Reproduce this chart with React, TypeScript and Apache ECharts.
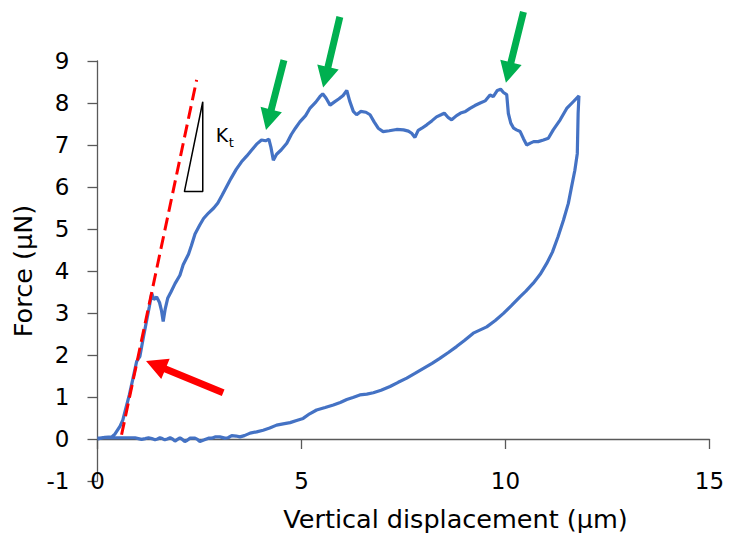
import React, { useEffect, useRef } from "react";
import * as echarts from "echarts";

// ---- Data ----
const xTickInterval = 5;
const yTickInterval = 1;
const xRange = [0, 15];
const yRange = [-1, 9];

// loading branch: displacement (µm), force (µN)
const loadX = [0.0, 0.18, 0.35, 0.43, 0.55, 0.62, 0.7, 0.78, 0.86, 0.96, 1.04, 1.12, 1.2, 1.27, 1.33, 1.38, 1.45, 1.52, 1.57, 1.61, 1.66, 1.72, 1.8, 1.9, 2.02, 2.1, 2.23, 2.3, 2.39, 2.51, 2.6, 2.72, 2.85, 2.95, 3.05, 3.17, 3.27, 3.4, 3.53, 3.66, 3.78, 3.9, 4.02, 4.12, 4.2, 4.25, 4.31, 4.39, 4.5, 4.64, 4.75, 4.85, 4.96, 5.1, 5.21, 5.35, 5.45, 5.52, 5.6, 5.7, 5.8, 5.92, 6.02, 6.11, 6.18, 6.27, 6.35, 6.45, 6.58, 6.68, 6.78, 6.88, 7.0, 7.15, 7.33, 7.5, 7.62, 7.7, 7.78, 7.86, 7.95, 8.07, 8.2, 8.31, 8.42, 8.5, 8.6, 8.68, 8.8, 8.9, 9.02, 9.13, 9.25, 9.38, 9.5, 9.62, 9.7, 9.8, 9.88, 9.95, 10.03, 10.07, 10.13, 10.2, 10.27, 10.36, 10.44, 10.52, 10.62, 10.69, 10.8, 10.93, 11.05, 11.17, 11.34, 11.5, 11.66, 11.8];
const loadY = [0.0, 0.04, 0.05, 0.12, 0.3, 0.45, 0.75, 1.05, 1.4, 1.85, 1.97, 2.4, 2.8, 3.15, 3.47, 3.32, 3.38, 3.25, 3.05, 2.8, 3.1, 3.35, 3.5, 3.7, 3.9, 4.15, 4.4, 4.6, 4.88, 5.1, 5.25, 5.38, 5.5, 5.62, 5.8, 6.02, 6.2, 6.42, 6.6, 6.74, 6.88, 7.02, 7.12, 7.1, 7.14, 6.95, 6.64, 6.78, 6.88, 7.04, 7.25, 7.4, 7.55, 7.7, 7.88, 8.02, 8.15, 8.22, 8.12, 7.95, 8.02, 8.1, 8.18, 8.3, 8.05, 7.8, 7.72, 7.8, 7.78, 7.72, 7.55, 7.4, 7.32, 7.34, 7.37, 7.36, 7.33, 7.28, 7.18, 7.35, 7.4, 7.48, 7.58, 7.67, 7.72, 7.76, 7.65, 7.6, 7.7, 7.76, 7.8, 7.87, 7.94, 8.0, 8.05, 8.19, 8.15, 8.3, 8.33, 8.25, 8.2, 7.75, 7.52, 7.4, 7.36, 7.32, 7.15, 7.0, 7.05, 7.08, 7.08, 7.12, 7.16, 7.36, 7.6, 7.87, 8.03, 8.17];

// unloading branch, ending in the noisy baseline back to 0
const unloadX = [11.8, 11.78, 11.76, 11.7, 11.62, 11.54, 11.42, 11.29, 11.15, 11.01, 10.85, 10.68, 10.5, 10.36, 10.15, 9.95, 9.75, 9.54, 9.21, 9.0, 8.8, 8.6, 8.39, 8.2, 7.99, 7.78, 7.58, 7.37, 7.17, 6.95, 6.76, 6.6, 6.43, 6.26, 6.11, 5.95, 5.78, 5.58, 5.37, 5.2, 5.04, 4.88, 4.72, 4.55, 4.39, 4.22, 4.06, 3.9, 3.74, 3.6, 3.49, 3.4, 3.29, 3.2, 3.12, 3.0, 2.88, 2.8, 2.72, 2.62, 2.51, 2.45, 2.39, 2.27, 2.2, 2.14, 2.08, 2.02, 1.96, 1.9, 1.84, 1.78, 1.71, 1.65, 1.59, 1.53, 1.47, 1.41, 1.33, 1.25, 1.17, 1.08, 1.0, 0.92, 0.7, 0.43, 0.18, 0.06, 0.0];
const unloadY = [8.17, 7.75, 6.8, 6.4, 6.01, 5.61, 5.21, 4.82, 4.45, 4.18, 3.92, 3.71, 3.52, 3.39, 3.18, 2.99, 2.82, 2.67, 2.52, 2.35, 2.2, 2.06, 1.92, 1.8, 1.68, 1.56, 1.45, 1.35, 1.25, 1.16, 1.1, 1.07, 1.05, 0.99, 0.94, 0.87, 0.81, 0.75, 0.69, 0.6, 0.49, 0.44, 0.39, 0.36, 0.33, 0.26, 0.21, 0.17, 0.14, 0.08, 0.05, 0.07, 0.08, 0.03, 0.02, 0.05, 0.05, 0.02, 0.02, -0.02, -0.06, -0.01, 0.02, 0.02, -0.03, -0.06, -0.01, 0.03, -0.01, -0.05, 0.0, 0.03, 0.0, -0.02, 0.01, 0.03, 0.0, -0.02, 0.01, 0.03, 0.01, -0.01, 0.01, 0.03, 0.03, 0.03, 0.04, 0.02, 0.02];

// initial stiffness fit (red dashed)
const fitX = [0.59, 2.43];
const fitY = [0.1, 8.55];

// slope triangle K_t
const triX = [2.58, 2.58, 2.13, 2.58];
const triY = [8.03, 5.89, 5.89, 8.03];
const ktLabelAt = [2.9, 7.24];

// arrows [tailX, tailY, tipX, tipY] in data units
const redArrow = [3.08, 1.1, 1.19, 1.86];
const greenArrows = [
  [4.57, 9.02, 4.13, 7.36],
  [5.94, 10.05, 5.53, 8.37],
  [10.44, 10.17, 10.01, 8.48],
];

const FONT = "'DejaVu Sans', sans-serif";
const AXIS_COLOR = "#595959";

function zip(xs: number[], ys: number[]) {
  return xs.map((x, i) => [x, ys[i]]);
}

function arrowPoints(tail: number[], tip: number[], shaft: number, headW: number, headL: number) {
  const dx = tip[0] - tail[0];
  const dy = tip[1] - tail[1];
  const len = Math.sqrt(dx * dx + dy * dy);
  const ux = dx / len, uy = dy / len;
  const nx = -uy, ny = ux;
  const bx = tip[0] - ux * headL, by = tip[1] - uy * headL;
  const s = shaft / 2, w = headW / 2;
  return [
    [tail[0] + nx * s, tail[1] + ny * s],
    [bx + nx * s, by + ny * s],
    [bx + nx * w, by + ny * w],
    [tip[0], tip[1]],
    [bx - nx * w, by - ny * w],
    [bx - nx * s, by - ny * s],
    [tail[0] - nx * s, tail[1] - ny * s],
  ];
}

export default function App() {
  const ref = useRef<HTMLDivElement>(null);
  useEffect(() => {
    if (!ref.current) return;
    const chart = echarts.init(ref.current, undefined, { renderer: "svg" });
    const option: any = {
      animation: false,
      backgroundColor: "#ffffff",
      grid: { left: 97.5, right: 19.5, top: 61, bottom: 55, containLabel: false, outerBoundsMode: "none" },
      xAxis: {
        type: "value",
        min: xRange[0],
        max: xRange[1],
        interval: xTickInterval,
        axisLine: { onZero: true, lineStyle: { color: AXIS_COLOR, width: 1.3 } },
        axisTick: { show: true, length: 10, lineStyle: { color: AXIS_COLOR, width: 1.3 } },
        axisLabel: { margin: -12, fontSize: 23, color: "#000", fontFamily: FONT },
        splitLine: { show: false },
        name: "Vertical displacement (µm)",
        nameLocation: "middle",
        nameGap: 25,
        nameTextStyle: { fontSize: 25.5, color: "#000", fontFamily: FONT, padding: [0, 0, 0, 104] },
      },
      yAxis: {
        type: "value",
        min: yRange[0],
        max: yRange[1],
        interval: yTickInterval,
        axisLine: { show: true, onZero: false, lineStyle: { color: AXIS_COLOR, width: 1.3 } },
        axisTick: { show: true, length: 10, lineStyle: { color: AXIS_COLOR, width: 1.3 } },
        axisLabel: { margin: 28, fontSize: 23, color: "#000", fontFamily: FONT },
        splitLine: { show: false },
        name: "Force (µN)",
        nameLocation: "middle",
        nameGap: 61,
        nameTextStyle: { fontSize: 25.5, color: "#000", fontFamily: FONT },
      },
      series: [
        {
          type: "line",
          data: zip(loadX, loadY).concat(zip(unloadX, unloadY)),
          symbol: "none",
          lineStyle: { color: "#4472C4", width: 3.2 },
          silent: true,
          z: 2,
        },
        {
          type: "line",
          data: zip(fitX, fitY),
          symbol: "none",
          lineStyle: { color: "#FF0000", width: 3, type: [13, 6] },
          silent: true,
          z: 3,
        },
        {
          type: "line",
          data: zip(triX, triY),
          symbol: "none",
          lineStyle: { color: "#000000", width: 1.5 },
          silent: true,
          z: 3,
        },
      ],
    };
    chart.setOption(option);

    const toPx = (p: number[]) => chart.convertToPixel({ gridIndex: 0 }, p) as number[];
    const graphics: any[] = [];
    const addArrow = (a: number[], color: string) => {
      const tail = toPx([a[0], a[1]]);
      const tip = toPx([a[2], a[3]]);
      graphics.push({
        type: "polygon",
        shape: { points: arrowPoints(tail, tip, 7, 22, 21) },
        style: { fill: color },
        silent: true,
        z: 100,
      });
    };
    addArrow(redArrow, "#FF0000");
    greenArrows.forEach((a) => addArrow(a, "#00B050"));
    const kt = toPx(ktLabelAt);
    graphics.push({
      type: "text",
      x: kt[0],
      y: kt[1],
      style: { text: "K", fontSize: 19, fontFamily: FONT, fill: "#000", align: "left", verticalAlign: "middle" },
      silent: true,
      z: 100,
    });
    graphics.push({
      type: "text",
      x: kt[0] + 13,
      y: kt[1] + 8,
      style: { text: "t", fontSize: 13, fontFamily: FONT, fill: "#000", align: "left", verticalAlign: "middle" },
      silent: true,
      z: 100,
    });
    chart.setOption({ graphic: graphics });

    return () => chart.dispose();
  }, []);
  return (
    <div
      ref={ref}
      style={{ position: "fixed", left: 0, top: 0, width: 729, height: 536, background: "#fff" }}
    />
  );
}
